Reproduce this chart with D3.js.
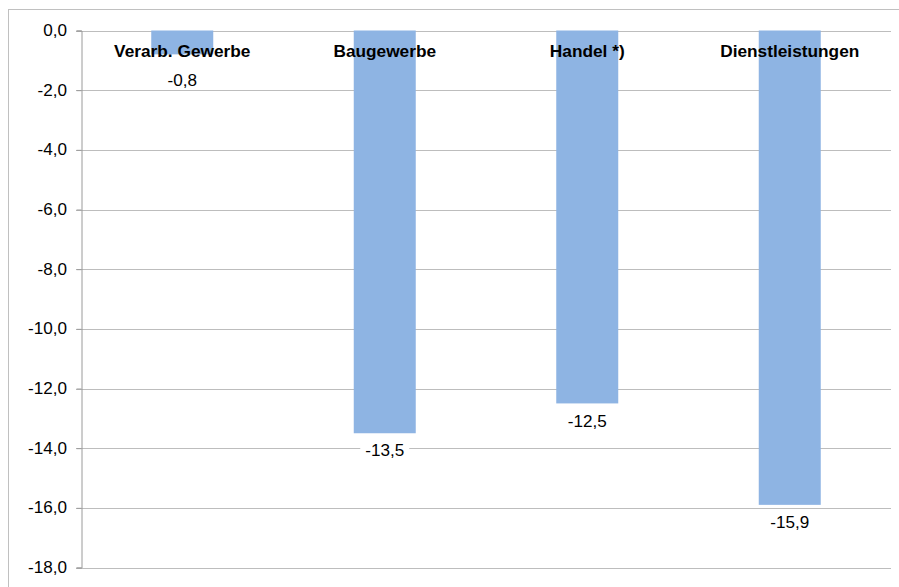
<!DOCTYPE html>
<html><head><meta charset="utf-8">
<script src="https://cdn.jsdelivr.net/npm/d3@7"></script>
<style>body{margin:0;background:#fff}svg{display:block;font-family:"Liberation Sans",Arial,sans-serif}</style>
</head><body><svg id="c" width="899" height="587"></svg>
<script>
const categories = ["Verarb. Gewerbe", "Baugewerbe", "Handel *)", "Dienstleistungen"];
const values = [-0.8, -13.5, -12.5, -15.9];
const yTicks = [0, -2, -4, -6, -8, -10, -12, -14, -16, -18];

const svg = d3.select("#c");
const fmt = v => d3.format(".1f")(v).replace(".", ",").replace("−", "-");
const pLeft = 81, pRight = 891, pTop = 30.5, pBottom = 567.5;
const sx = 1.07; // horizontal stretch of text
const fs = 16;

svg.append("rect").attr("x", 8.5).attr("y", 9.5).attr("width", 1000).attr("height", 1000)
  .attr("fill", "none").attr("stroke", "#c0c0c0").attr("stroke-width", 1);

const x = d3.scaleBand().domain(categories).range([pLeft, pRight]).paddingInner(0.694).paddingOuter(0.347);
const y = d3.scaleLinear().domain([0, -18]).range([pTop, pBottom]);

// gridlines
svg.append("g").selectAll("line").data(yTicks).join("line")
  .attr("x1", pLeft - 5).attr("x2", pRight)
  .attr("y1", d => Math.round(y(d)) + 0.5).attr("y2", d => Math.round(y(d)) + 0.5)
  .attr("stroke", "#bdbdbd").attr("stroke-width", 1);

// axis
const yAxis = d3.axisLeft(y).tickValues(yTicks).tickFormat(fmt).tickSize(5).tickPadding(0);
const ga = svg.append("g").attr("transform", `translate(${pLeft + 0.5},0)`).call(yAxis);
ga.select(".domain").attr("stroke", "#9a9a9a");
ga.selectAll(".tick line").attr("stroke", "#9a9a9a");
ga.selectAll("text").attr("x", null)
  .attr("transform", `translate(-14.5,0) scale(${sx},1)`)
  .attr("font-size", fs).attr("fill", "#000").attr("font-family", "Liberation Sans, Arial, sans-serif");

// bars
const bw = 62;
svg.append("g").selectAll("rect").data(values).join("rect")
  .attr("x", (d, i) => x(categories[i]) + x.bandwidth() / 2 - bw / 2)
  .attr("y", y(0))
  .attr("width", bw)
  .attr("height", d => y(d) - y(0))
  .attr("fill", "#8eb4e3");

// category labels
const catY = 51;
svg.append("g").selectAll("text").data(categories).join("text")
  .attr("transform", d => `translate(${x(d) + x.bandwidth() / 2},${catY}) scale(1.08,1)`)
  .attr("dy", "0.35em")
  .attr("text-anchor", "middle").attr("font-size", fs).attr("font-weight", "bold")
  .text(d => d);

// value labels
const lg = svg.append("g");
values.forEach((v, i) => {
  const cx = x(categories[i]) + x.bandwidth() / 2;
  const ly = Math.max(y(v) + 17.5, catY + 29);
  const t = lg.append("text").attr("transform", `translate(${cx},${ly}) scale(${sx},1)`).attr("dy", "0.35em")
    .attr("text-anchor", "middle").attr("font-size", fs).text(fmt(v));
  const bb = t.node().getBBox();
  const w = bb.width * sx;
  lg.insert("rect", "text").attr("x", cx - w / 2 - 5).attr("y", ly + bb.y).attr("width", w + 10).attr("height", bb.height).attr("fill", "#fff");
});
</script></body></html>
